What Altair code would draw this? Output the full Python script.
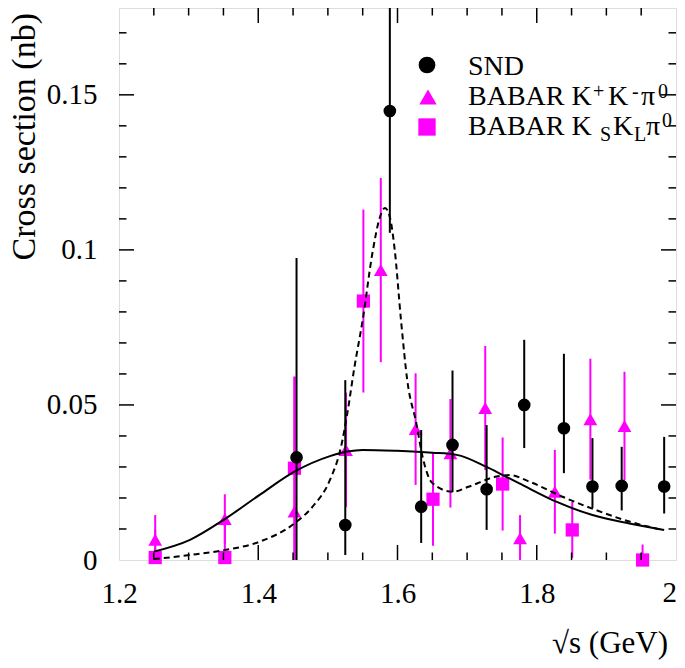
import altair as alt
import pandas as pd

# ---------------- data ----------------
snd_x = [1.455, 1.525, 1.589, 1.634, 1.679, 1.728, 1.782, 1.839, 1.880, 1.922, 1.983]
snd_y = [0.0331, 0.0113, 0.1448, 0.0172, 0.0371, 0.0228, 0.0500, 0.0425, 0.0237, 0.0239, 0.0237]
snd_up = [0.0643, 0.0467, 0.0400, 0.0247, 0.0240, 0.0207, 0.0210, 0.0240, 0.0156, 0.0126, 0.0160]
snd_dn = [0.0643, 0.0097, 0.0393, 0.0117, 0.0152, 0.0131, 0.0139, 0.0145, 0.0069, 0.0079, 0.0087]

kk_x = [1.252, 1.352, 1.452, 1.526, 1.576, 1.626, 1.676, 1.726, 1.776, 1.826, 1.877, 1.926]
kk_y = [0.0065, 0.0132, 0.0156, 0.0355, 0.0935, 0.0422, 0.0344, 0.0490, 0.0070, 0.0220, 0.0454, 0.0432]
kk_err = [0.0080, 0.0080, 0.0434, 0.0185, 0.0297, 0.0180, 0.0175, 0.0200, 0.0075, 0.0135, 0.0195, 0.0175]

ks_x = [1.252, 1.352, 1.452, 1.551, 1.651, 1.751, 1.851, 1.952]
ks_y = [0.0008, 0.0008, 0.0296, 0.0835, 0.0196, 0.0245, 0.0097, 0.0000]
ks_err = [0.0090, 0.0120, 0.0296, 0.0295, 0.0150, 0.0150, 0.0090, 0.0050]

solid_x = [1.250, 1.302, 1.352, 1.402, 1.452, 1.503, 1.528, 1.550, 1.599, 1.650,
           1.685, 1.728, 1.751, 1.775, 1.828, 1.880, 1.933, 1.983]
solid_y = [0.0027, 0.0065, 0.0132, 0.0210, 0.0285, 0.0335, 0.0350, 0.0355, 0.0352, 0.0346,
           0.0339, 0.0300, 0.0274, 0.0247, 0.0188, 0.0145, 0.0118, 0.0097]

dash_x = [1.250, 1.302, 1.352, 1.402, 1.452, 1.478, 1.503, 1.519, 1.528, 1.538, 1.550,
          1.564, 1.574, 1.582, 1.589, 1.596, 1.605, 1.614, 1.627, 1.636, 1.650, 1.679,
          1.703, 1.742, 1.761, 1.789, 1.837, 1.885, 1.933, 1.980]
dash_y = [0.0003, 0.0016, 0.0032, 0.0059, 0.0118, 0.0172, 0.0258, 0.0366, 0.0474, 0.0620, 0.0774,
          0.0990, 0.1100, 0.1135, 0.1106, 0.1000, 0.0774, 0.0580, 0.0441, 0.0333, 0.0248, 0.0220,
          0.0237, 0.0269, 0.0274, 0.0253, 0.0204, 0.0161, 0.0124, 0.0097]

x_major = [1.4, 1.6, 1.8]
x_minor = [1.25, 1.3, 1.35, 1.45, 1.5, 1.55, 1.65, 1.7, 1.75, 1.85, 1.9, 1.95]
x_labels = [1.2, 1.4, 1.6, 1.8, 2.0]
y_major = [0.05, 0.10, 0.15]
y_minor = [0.01, 0.02, 0.03, 0.04, 0.06, 0.07, 0.08, 0.09, 0.11, 0.12, 0.13, 0.14, 0.16, 0.17]
y_labels = [0.0, 0.05, 0.10, 0.15]

legend_names = ["SND", "BABAR K+K-π0", "BABAR KSKLπ0"]

# ---------------- layout ----------------
W, H = 557, 552
FONT = "Liberation Serif"
MAG = "#ff00ff"

xs = alt.Scale(domain=[1.2, 2.0], nice=False, zero=False)
ys = alt.Scale(domain=[0, 0.178], nice=False, zero=False)

snd = pd.DataFrame({"x": snd_x, "y": snd_y,
                    "lo": [a - b for a, b in zip(snd_y, snd_dn)],
                    "hi": [a + b for a, b in zip(snd_y, snd_up)]})
kk = pd.DataFrame({"x": kk_x, "y": kk_y,
                   "lo": [a - b for a, b in zip(kk_y, kk_err)],
                   "hi": [a + b for a, b in zip(kk_y, kk_err)]})
ks = pd.DataFrame({"x": ks_x, "y": ks_y,
                   "lo": [a - b for a, b in zip(ks_y, ks_err)],
                   "hi": [a + b for a, b in zip(ks_y, ks_err)]})
solid = pd.DataFrame({"x": solid_x, "y": solid_y})
dash = pd.DataFrame({"x": dash_x, "y": dash_y})

X = alt.X("x:Q", scale=xs, title=None,
          axis=alt.Axis(values=x_labels[:-1], format="~g", ticks=False, domain=False, grid=False,
                        labelFont=FONT, labelFontSize=29, labelColor="black",
                        labelPadding=19, labelFlush=False, labelOverlap=False))
Y = alt.Y("y:Q", scale=ys, title=None,
          axis=alt.Axis(values=y_labels, format="~g", ticks=False, domain=False, grid=False,
                        labelFont=FONT, labelFontSize=29, labelColor="black",
                        labelPadding=22, labelFlush=False, labelOverlap=False))


def errbars(df, color):
    return alt.Chart(df).mark_rule(color=color, strokeWidth=2, clip=True).encode(
        x=alt.X("x:Q", scale=xs), y=alt.Y("lo:Q", scale=ys), y2="hi:Q")


def points(df, shape, color, size):
    return alt.Chart(df).mark_point(shape=shape, filled=True, color=color, size=size,
                                    opacity=1, strokeWidth=0).encode(
        x=alt.X("x:Q", scale=xs), y=alt.Y("y:Q", scale=ys))


base = alt.Chart(snd).mark_point(opacity=0).encode(x=X, y=Y)

layers = [base,
          errbars(kk, MAG), errbars(ks, MAG),
          points(kk, "triangle-up", MAG, 190), points(ks, "square", MAG, 175),
          errbars(snd, "black"), points(snd, "circle", "black", 160),
          alt.Chart(solid).mark_line(color="black", strokeWidth=2, interpolate="monotone").encode(
              x=alt.X("x:Q", scale=xs), y=alt.Y("y:Q", scale=ys)),
          alt.Chart(dash).mark_line(color="black", strokeWidth=2, strokeDash=[6, 4],
                                    interpolate="monotone").encode(
              x=alt.X("x:Q", scale=xs), y=alt.Y("y:Q", scale=ys))]

# last x label ("2") sits right at the frame edge
layers.append(alt.Chart(pd.DataFrame({"v": x_labels[-1:]})).mark_text(
    align="right", baseline="top", font=FONT, fontSize=29, color="black", dx=1).encode(
    x=alt.X("v:Q", scale=xs), y=alt.value(H + 19), text=alt.Text("v:Q", format="~g")))


# tick marks on all four sides
def xticks(vals, length):
    df = pd.DataFrame({"v": vals})
    bot = alt.Chart(df).mark_rule(color="black", strokeWidth=1.5).encode(
        x=alt.X("v:Q", scale=xs), y=alt.value(H), y2=alt.value(H - length))
    top = alt.Chart(df).mark_rule(color="black", strokeWidth=1.5).encode(
        x=alt.X("v:Q", scale=xs), y=alt.value(0), y2=alt.value(length))
    return [bot, top]


def yticks(vals, length):
    df = pd.DataFrame({"v": vals})
    left = alt.Chart(df).mark_rule(color="black", strokeWidth=1.5).encode(
        y=alt.Y("v:Q", scale=ys), x=alt.value(0), x2=alt.value(length))
    right = alt.Chart(df).mark_rule(color="black", strokeWidth=1.5).encode(
        y=alt.Y("v:Q", scale=ys), x=alt.value(W), x2=alt.value(W - length))
    return [left, right]


layers += xticks(x_major, 15) + xticks(x_minor, 7.5) + yticks(y_major, 15) + yticks(y_minor, 7.5)

# legend (pixel positions inside the plot area)
leg_sym = pd.DataFrame({"name": legend_names, "px": [308, 309, 308], "py": [57, 89, 119]})
for i, (shape, col, size) in enumerate([("circle", "black", 280),
                                        ("triangle-up", MAG, 300),
                                        ("square", MAG, 300)]):
    layers.append(alt.Chart(leg_sym.iloc[[i]]).mark_point(
        shape=shape, filled=True, color=col, size=size, opacity=1, strokeWidth=0).encode(
        x=alt.X("px:Q", scale=None), y=alt.Y("py:Q", scale=None)))

leg_txt = pd.DataFrame([
    ("SND", 349, 67, 28),
    ("BABAR K", 349, 97, 28), ("+", 474, 90, 20), ("K", 489, 97, 28), ("-", 513, 90, 20),
    ("π", 522, 97, 28), ("0", 539, 90, 20),
    ("BABAR K", 349, 127, 28), ("S", 481, 133, 20), ("K", 494, 127, 28), ("L", 515, 133, 20),
    ("π", 527, 127, 28), ("0", 543, 119, 20),
], columns=["t", "px", "py", "fs"])
for fs in [28, 20]:
    layers.append(alt.Chart(leg_txt[leg_txt.fs == fs]).mark_text(
        align="left", baseline="alphabetic", font=FONT, fontSize=fs, color="black").encode(
        x=alt.X("px:Q", scale=None), y=alt.Y("py:Q", scale=None), text="t:N"))

# axis titles
layers.append(alt.Chart(pd.DataFrame({"t": ["Cross section (nb)"]})).mark_text(
    align="right", baseline="alphabetic", angle=270, font=FONT, fontSize=34, color="black").encode(
    x=alt.value(-84), y=alt.value(5), text="t:N"))
layers.append(alt.Chart(pd.DataFrame({"t": ["√s (GeV)"]})).mark_text(
    align="right", baseline="alphabetic", font=FONT, fontSize=31, color="black").encode(
    x=alt.value(549), y=alt.value(645), text="t:N"))

chart = alt.layer(*layers).properties(
    width=W, height=H,
    autosize=alt.AutoSizeParams(type="none"),
    padding={"left": 111, "top": 0, "right": 1, "bottom": 100},
).configure_view(stroke="black", strokeWidth=2).configure(background="white")

chart.save("out.html", embed_options={"renderer": "svg", "actions": False})
